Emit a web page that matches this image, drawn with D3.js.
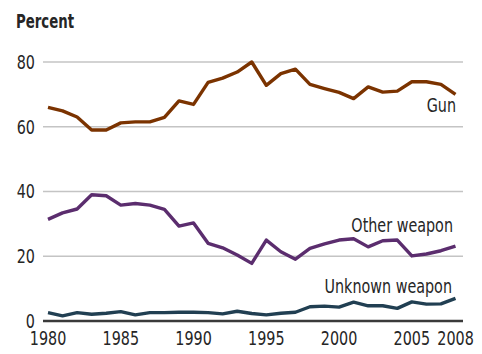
<!DOCTYPE html>
<html>
<head>
<meta charset="utf-8">
<script src="https://cdn.jsdelivr.net/npm/d3@7"></script>
<style>
  html, body { margin: 0; padding: 0; background: #fff; }
  svg text { font-family: "DejaVu Sans Condensed", "DejaVu Sans", sans-serif; }
</style>
</head>
<body>
<svg id="chart" width="482" height="354"></svg>
<script>
// Share of homicides by weapon type, 1980–2008
const years = d3.range(1980, 2009);
const gun = [66, 64.9, 63, 59, 59, 61.2, 61.5, 61.5, 62.9, 68, 66.9, 73.7, 75, 76.9, 80,
  72.8, 76.4, 77.8, 73.1, 71.8, 70.6, 68.7, 72.3, 70.7, 71, 73.9, 73.9, 73.1, 70];
const otherWeapon = [31.4, 33.4, 34.6, 39, 38.7, 35.8, 36.3, 35.8, 34.5, 29.3, 30.3, 24, 22.6, 20.4, 17.8,
  25, 21.4, 19.1, 22.4, 23.8, 25, 25.4, 22.9, 24.8, 25, 20.1, 20.7, 21.7, 23.1];
const unknownWeapon = [2.6, 1.6, 2.6, 2.1, 2.4, 2.9, 1.9, 2.6, 2.6, 2.7, 2.7, 2.6, 2.2, 3.0, 2.3,
  1.9, 2.4, 2.7, 4.4, 4.6, 4.3, 5.8, 4.7, 4.7, 3.9, 5.9, 5.2, 5.3, 7.0];
const yTicks = [0, 20, 40, 60, 80];
const xTicks = [1980, 1985, 1990, 1995, 2000, 2005, 2008];

const seriesNames = ["Gun", "Other weapon", "Unknown weapon"];
const seriesValues = [gun, otherWeapon, unknownWeapon];
const seriesColors = ["#7b3300", "#5b2d6e", "#213f52"];

const svg = d3.select("#chart");
const x = d3.scaleLinear().domain([1980, 2008]).range([48, 455.5]);
const y = d3.scaleLinear().domain([0, 80]).range([321, 62]);

const textColor = "#262626";
const squeeze = 0.84;

// places a horizontally condensed text label at (px, py)
function label(parent, px, py, str, anchor, opts = {}) {
  const g = parent.append("g")
    .attr("transform", `translate(${px},${py}) scale(${opts.sx || squeeze},1)`);
  g.append("text")
    .attr("text-anchor", anchor)
    .attr("dy", opts.dy || 0)
    .attr("font-size", opts.size || 19)
    .attr("font-weight", opts.weight || "normal")
    .attr("fill", textColor)
    .text(str);
  return g;
}

// horizontal gridlines
svg.append("g")
  .selectAll("line")
  .data(yTicks.filter(d => d > 0))
  .join("line")
  .attr("x1", 43).attr("x2", 463)
  .attr("y1", d => y(d)).attr("y2", d => y(d))
  .attr("stroke", "#c4c4c4").attr("stroke-width", 1.5);

// y tick labels
const yLabels = svg.append("g");
yTicks.forEach(d => label(yLabels, 35, y(d), d, "end", { dy: "0.36em" }));

// axis title
label(svg, 16, 28, "Percent", "start", { weight: "bold", size: 20, sx: 0.74 });

// series lines
const line = d3.line()
  .x((d, i) => x(years[i]))
  .y(d => y(d));

svg.append("g")
  .selectAll("path")
  .data(seriesValues)
  .join("path")
  .attr("d", d => line(d))
  .attr("fill", "none")
  .attr("stroke", (d, i) => seriesColors[i])
  .attr("stroke-width", 3.4)
  .attr("stroke-linejoin", "round");

// baseline
svg.append("line")
  .attr("x1", 43).attr("x2", 463)
  .attr("y1", y(0)).attr("y2", y(0))
  .attr("stroke", "#3a3a3a").attr("stroke-width", 2.5);

// x tick labels
const xLabels = svg.append("g");
xTicks.forEach(d => label(xLabels, x(d), 345, d, "middle"));

// series labels
const labelPos = [
  { x: 456, y: 111.5 },
  { x: 453, y: 231.5 },
  { x: 452, y: 293 }
];
const seriesLabels = svg.append("g");
seriesNames.forEach((name, i) => label(seriesLabels, labelPos[i].x, labelPos[i].y, name, "end"));
</script>
</body>
</html>
